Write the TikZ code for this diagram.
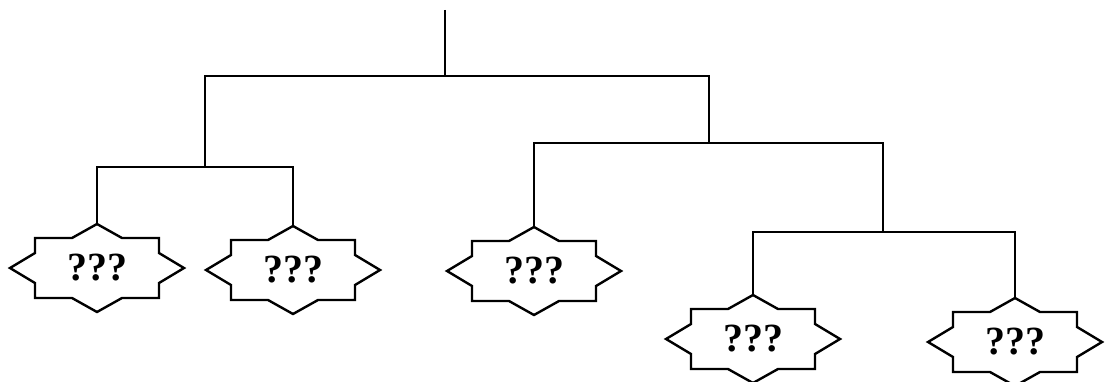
\documentclass[tikz,border=0pt]{standalone}
\usepackage{fontspec}
\setmainfont{Liberation Serif}
\tikzset{
  starbox/.style={shape=rectangle, minimum width=174pt, minimum height=88pt, inner sep=0pt,
    font=\fontsize{40}{44}\selectfont\bfseries},
  starline/.style={draw=black, line width=2.4pt, line join=miter}
}
\newcommand{\drawstar}[1]{%
  \draw[starline, shift={(#1.center)}]
    (-62,30) -- (-25,30) -- (0,44) -- (25,30) -- (62,30) -- (62,15) -- (87,0) -- (62,-15)
    -- (62,-30) -- (25,-30) -- (0,-44) -- (-25,-30) -- (-62,-30) -- (-62,-15) -- (-87,0)
    -- (-62,15) -- cycle;}
\begin{document}
\begin{tikzpicture}[x=1pt,y=1pt,line width=2.4pt]
\useasboundingbox (0,0) rectangle (1108,381);
\node[starbox] (s1) at (97,113) {\raisebox{-6pt}{???}};
\node[starbox] (s2) at (293,111) {\raisebox{-6pt}{???}};
\node[starbox] (s3) at (534,110) {\raisebox{-6pt}{???}};
\node[starbox] (s4) at (753,42) {\raisebox{-6pt}{???}};
\node[starbox] (s5) at (1015,39) {\raisebox{-6pt}{???}};
\drawstar{s1}\drawstar{s2}\drawstar{s3}\drawstar{s4}\drawstar{s5}
\coordinate (root) at (445,371);
\coordinate (n0) at (445,305);
\coordinate (nL) at (205,214);
\coordinate (nR) at (709,238);
\coordinate (nRR) at (883,149);
\draw (root) -- (n0);
\draw (nL) |- (n0) -| (nR);
\draw (s1.north) |- (nL) -| (s2.north);
\draw (s3.north) |- (nR) -| (nRR);
\draw (s4.north) |- (nRR) -| (s5.north);
\end{tikzpicture}
\end{document}
